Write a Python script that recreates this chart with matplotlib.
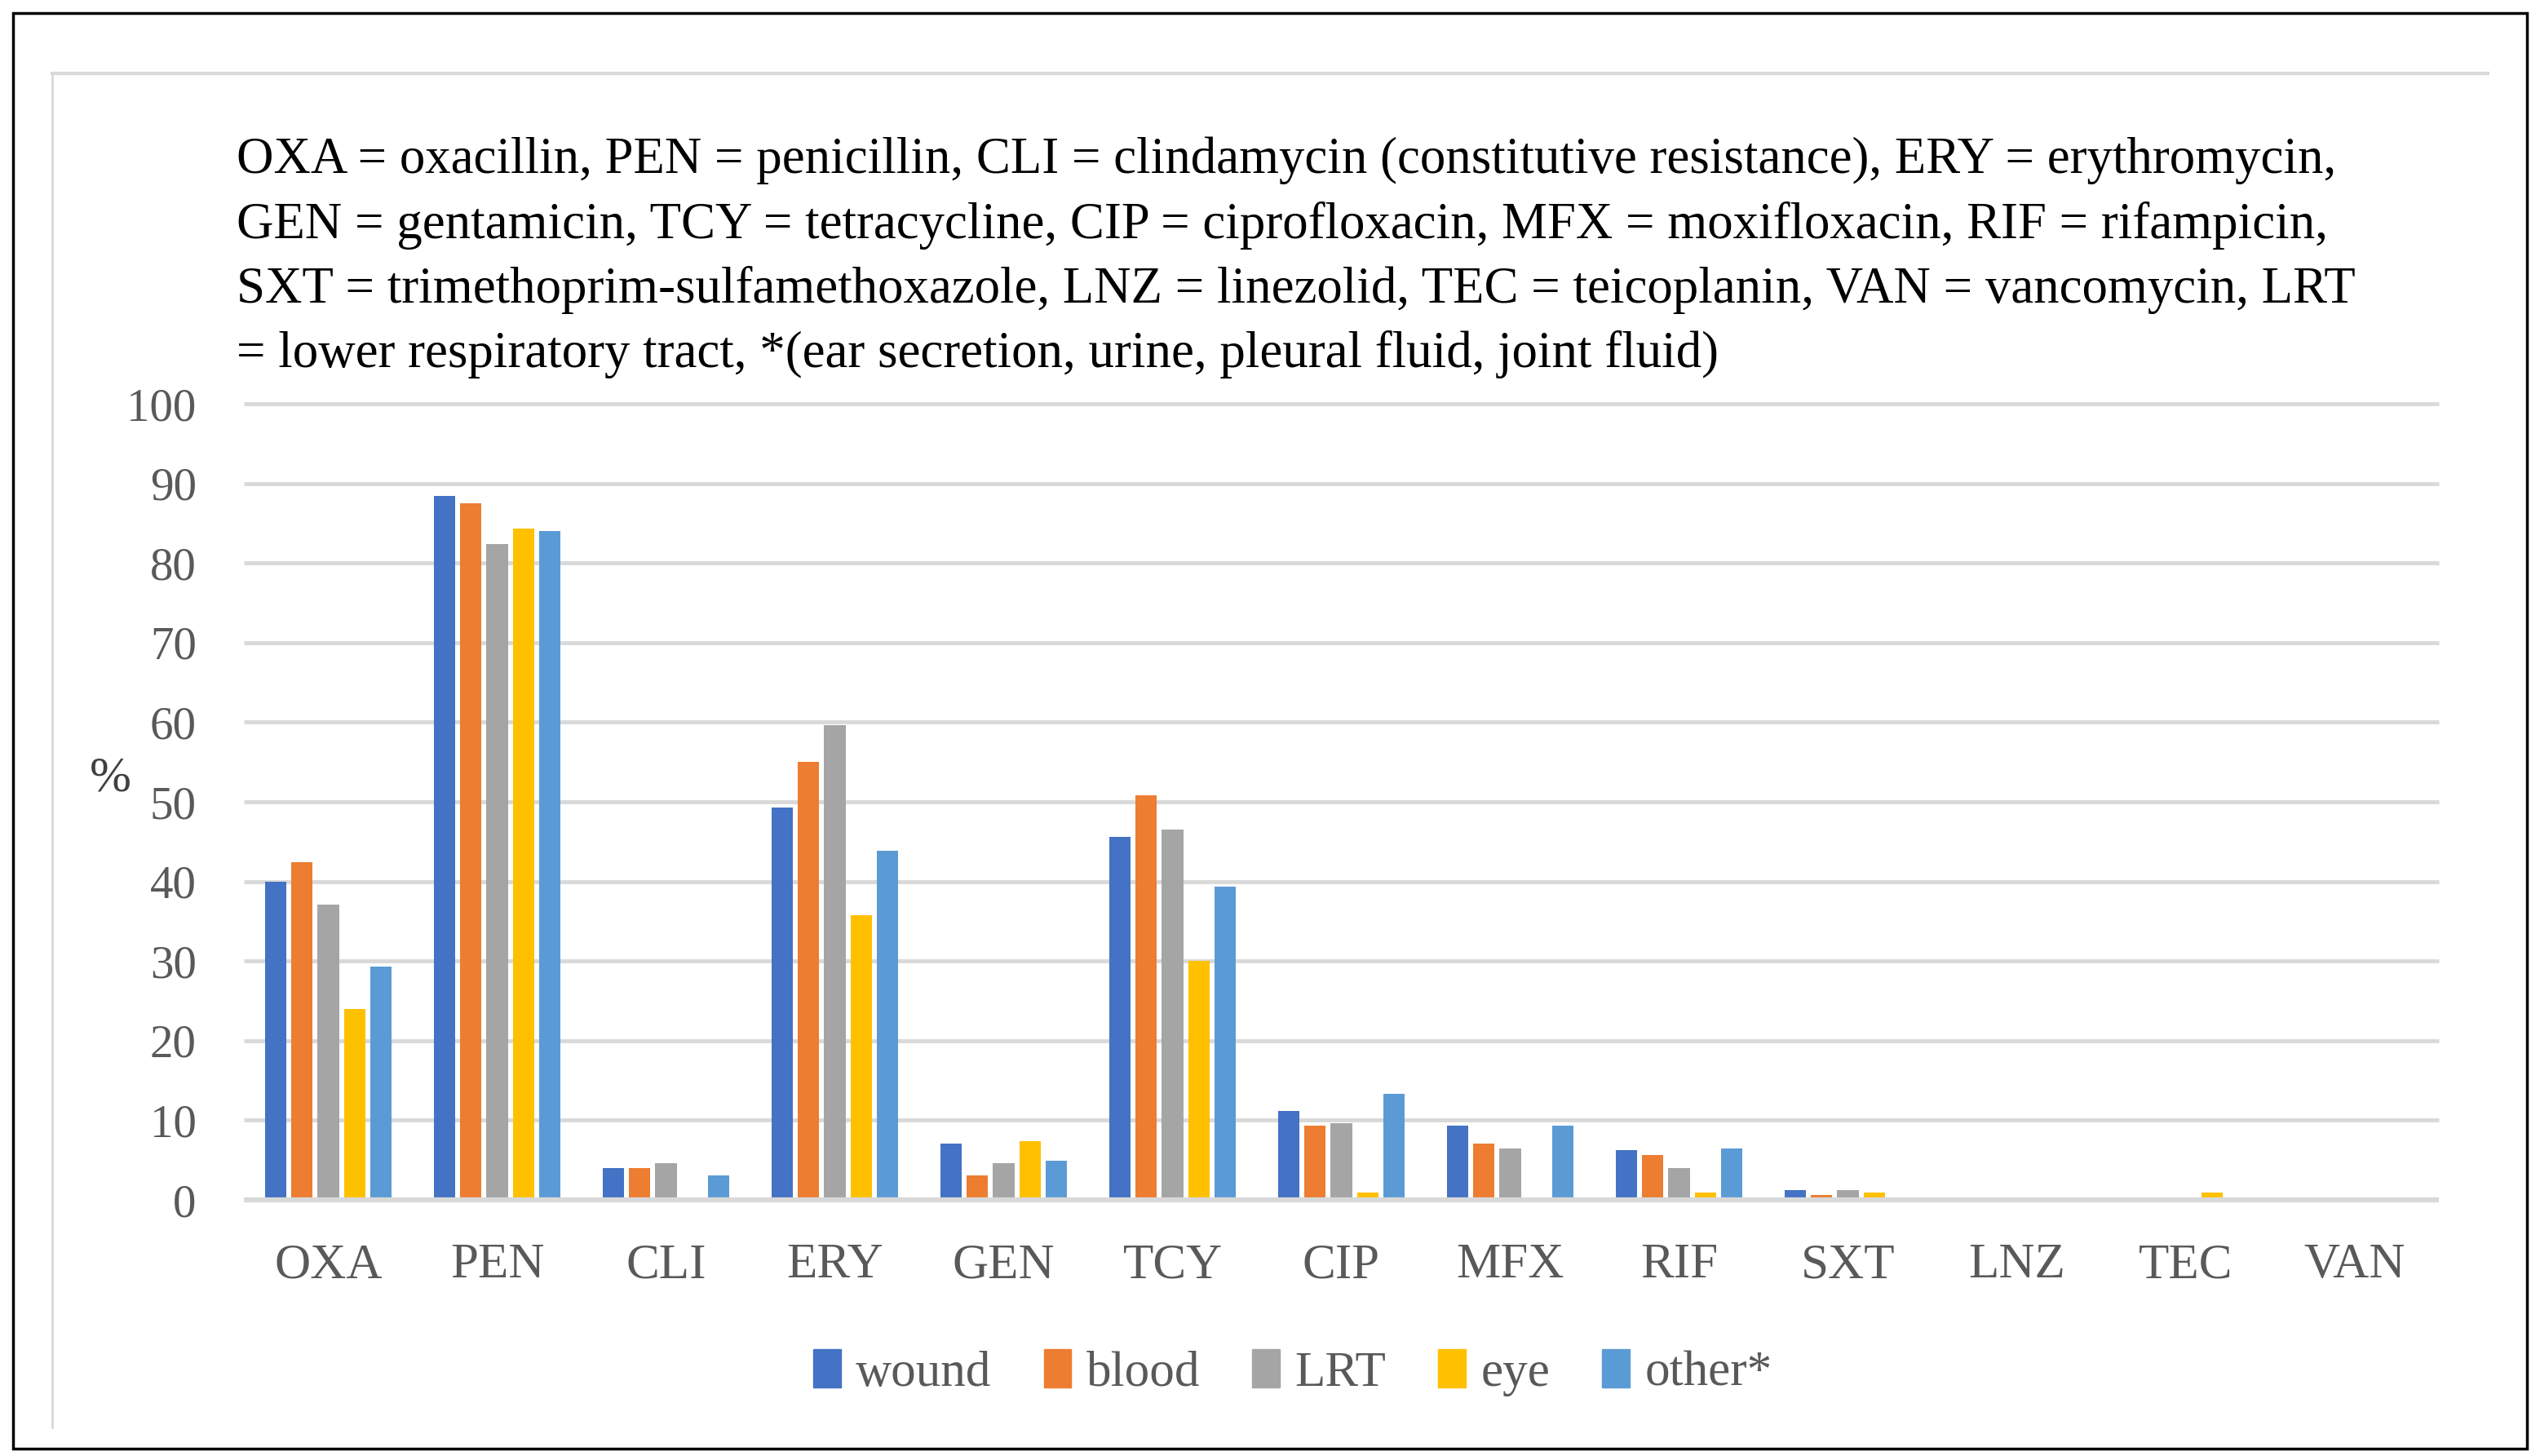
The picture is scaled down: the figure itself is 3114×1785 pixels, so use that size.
import matplotlib
matplotlib.use("Agg")
import matplotlib.pyplot as plt
import numpy as np
from matplotlib.patches import Rectangle, Patch
from matplotlib.lines import Line2D

categories = ["OXA", "PEN", "CLI", "ERY", "GEN", "TCY", "CIP", "MFX", "RIF", "SXT", "LNZ", "TEC", "VAN"]
series_names = ["wound", "blood", "LRT", "eye", "other*"]
wound = [40.0, 88.4, 4.0, 49.3, 7.1, 45.6, 11.2, 9.3, 6.2, 1.2, 0, 0, 0]
blood = [42.4, 87.5, 4.0, 55.0, 3.1, 50.8, 9.3, 7.1, 5.6, 0.6, 0, 0, 0]
lrt = [37.1, 82.4, 4.6, 59.6, 4.6, 46.5, 9.6, 6.5, 4.0, 1.2, 0, 0, 0]
eye = [24.0, 84.3, 0, 35.8, 7.4, 30.0, 0.9, 0, 0.9, 0.9, 0, 0.9, 0]
other = [29.3, 84.0, 3.1, 43.9, 4.9, 39.3, 13.3, 9.3, 6.5, 0, 0, 0, 0]
colors = ["#4472C4", "#ED7D31", "#A5A5A5", "#FFC000", "#5B9BD5"]

note_lines = [
    "OXA = oxacillin, PEN = penicillin, CLI = clindamycin (constitutive resistance), ERY = erythromycin,",
    "GEN = gentamicin, TCY = tetracycline, CIP = ciprofloxacin, MFX = moxifloxacin, RIF = rifampicin,",
    "SXT = trimethoprim-sulfamethoxazole, LNZ = linezolid, TEC = teicoplanin, VAN = vancomycin, LRT",
    "= lower respiratory tract, *(ear secretion, urine, pleural fluid, joint fluid)",
]

W, H = 3114, 1785
plt.rcParams["font.family"] = ["Liberation Serif", "DejaVu Serif"]
fig = plt.figure(figsize=(W / 100, H / 100), dpi=100)

# outer black frame and light chart border (top + left)
fig.patches.append(Rectangle((16 / W, 1 - 1776 / H), (3098 - 16) / W, (1776 - 16) / H,
                             transform=fig.transFigure, fill=False, ec="black", lw=2.5))
fig.lines.append(Line2D([64 / W, 3050 / W], [1 - 90 / H] * 2, transform=fig.transFigure,
                        color="#D9D9D9", lw=3))
fig.lines.append(Line2D([64 / W] * 2, [1 - 90 / H, 1 - 1750 / H], transform=fig.transFigure,
                        color="#D9D9D9", lw=2))

# note text
for i, line in enumerate(note_lines):
    fig.text(290 / W, 1 - (212 + i * 79.5) / H, line, fontsize=45.3, color="black",
             ha="left", va="baseline")

left, right, top, bottom = 299, 2990, 495, 1471
ax = fig.add_axes([left / W, 1 - bottom / H, (right - left) / W, (bottom - top) / H])

x = np.arange(len(categories))
slot, width = 0.155, 0.126
for i, (vals, c) in enumerate(zip([wound, blood, lrt, eye, other], colors)):
    ax.bar(x + (i - 2) * slot, vals, width=width, color=c, zorder=3)

ax.set_xlim(-0.5, len(categories) - 0.5)
ax.set_ylim(0, 100)
ax.hlines(np.arange(10, 101, 10), -0.5, len(categories) - 0.5, color="#D9D9D9", lw=3.5,
          zorder=1, clip_on=False)
ax.hlines(0, -0.5, len(categories) - 0.5, color="#D9D9D9", lw=4.5, zorder=4, clip_on=False)
for s in ax.spines.values():
    s.set_visible(False)

ax.set_yticks(np.arange(0, 101, 10))
ax.set_xticks(x)
ax.set_xticklabels(categories)
ax.tick_params(axis="y", length=0, labelsize=41, labelcolor="#595959", pad=42)
ax.tick_params(axis="x", length=0, labelsize=44, labelcolor="#595959", pad=38)

fig.text(135 / W, 1 - 955 / H, "%", fontsize=44, color="#404040", ha="center", va="center")

handles = [Patch(color=c) for c in colors]
fig.legend(handles, series_names, ncol=5, loc="center", bbox_to_anchor=(0.509, 1 - 1683 / H),
           frameon=False, fontsize=44, labelcolor="#595959", handlelength=0.55, handleheight=0.8,
           handletextpad=0.3, columnspacing=1.05)

fig.savefig("out.png", dpi=100)
